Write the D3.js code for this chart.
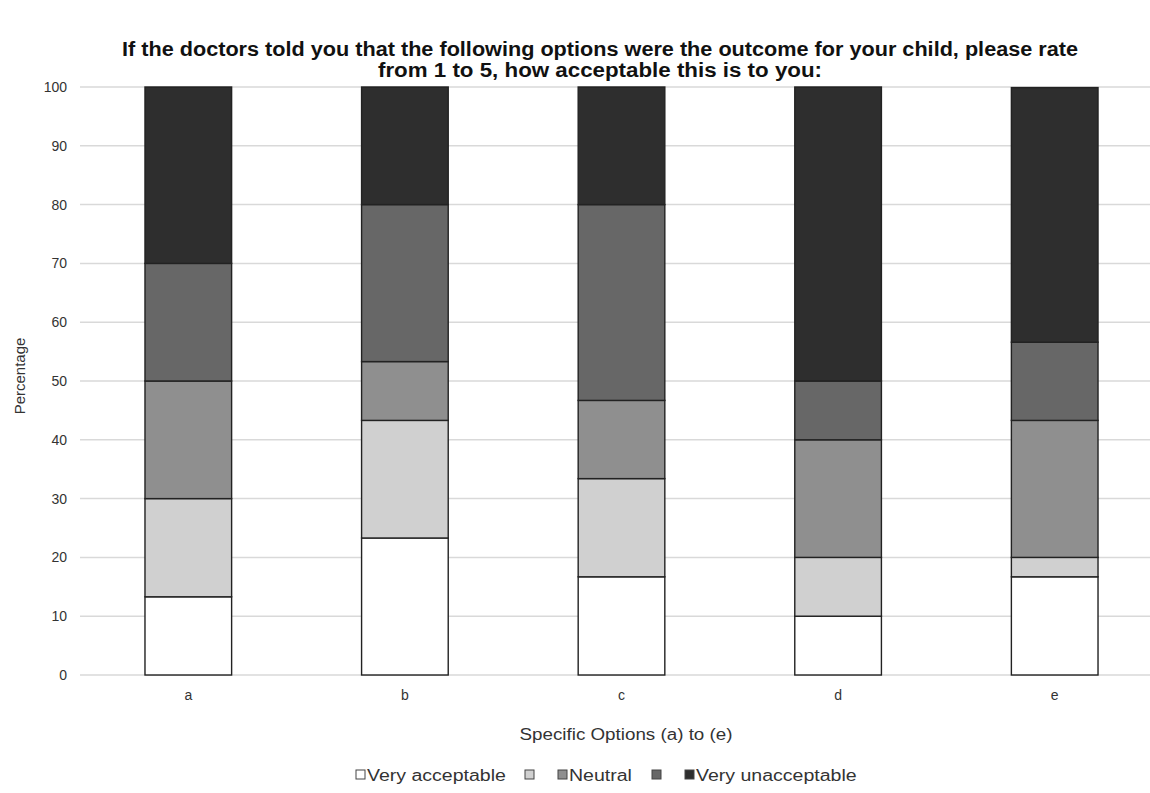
<!DOCTYPE html>
<html>
<head>
<meta charset="utf-8">
<script src="https://cdn.jsdelivr.net/npm/d3@7"></script>
<style>
  html, body { margin: 0; padding: 0; background: #fff; }
  svg { display: block; font-family: "Liberation Sans", Arial, sans-serif; }
</style>
</head>
<body>
<svg id="chart" width="1150" height="793"></svg>
<script>
// Response options (a)–(e)
const categories = ["a", "b", "c", "d", "e"];

// Rating levels, from most to least acceptable
const seriesNames = ["Very acceptable", "", "Neutral", "", "Very unacceptable"];

// Percentage of respondents per rating level, one entry per option
const veryAcceptable   = [13.3, 23.3, 16.7, 10.0, 16.7];
const acceptable       = [16.7, 20.0, 16.7, 10.0,  3.3];
const neutral          = [20.0, 10.0, 13.3, 20.0, 23.3];
const unacceptable     = [20.0, 26.7, 33.3, 10.0, 13.3];
const veryUnacceptable = [30.0, 20.0, 20.0, 50.0, 43.3];

const yTicks = [0, 10, 20, 30, 40, 50, 60, 70, 80, 90, 100];

const seriesValues = [veryAcceptable, acceptable, neutral, unacceptable, veryUnacceptable];
const fills = ["#ffffff", "#d0d0d0", "#8f8f8f", "#676767", "#2e2e2e"];

const rows = categories.map((c, i) => {
  const r = { cat: c };
  seriesValues.forEach((s, k) => { r["s" + k] = s[i]; });
  return r;
});
const keys = seriesValues.map((_, k) => "s" + k);
const stacked = d3.stack().keys(keys)(rows);

const svg = d3.select("#chart");
const plot = { left: 80, right: 1163, top: 87, bottom: 675 };

const x = d3.scaleBand()
  .domain(categories)
  .range([plot.left, plot.right])
  .paddingInner(0.6)
  .paddingOuter(0.3);

const y = d3.scaleLinear().domain([0, 100]).range([plot.bottom, plot.top]);

// Horizontal gridlines
svg.append("g")
  .selectAll("line")
  .data(yTicks)
  .join("line")
  .attr("x1", plot.left)
  .attr("x2", plot.right)
  .attr("y1", d => y(d))
  .attr("y2", d => y(d))
  .attr("stroke", "#d9d9d9")
  .attr("stroke-width", 1.5);

// Y axis labels
const yAxis = d3.axisLeft(y).tickValues(yTicks).tickSize(0).tickPadding(0);
const gy = svg.append("g").attr("transform", `translate(${plot.left - 13},0)`).call(yAxis);
gy.select(".domain").remove();
gy.selectAll("text")
  .attr("font-size", 14)
  .attr("fill", "#333")
  .attr("font-family", "Liberation Sans, Arial, sans-serif");

// X axis labels
const xAxis = d3.axisBottom(x).tickSize(0).tickPadding(0);
const gx = svg.append("g").attr("transform", `translate(0,${plot.bottom + 15})`).call(xAxis);
gx.select(".domain").remove();
gx.selectAll("text")
  .attr("font-size", 14)
  .attr("fill", "#333")
  .attr("font-family", "Liberation Sans, Arial, sans-serif");

// Stacked bars
svg.append("g")
  .selectAll("g")
  .data(stacked)
  .join("g")
  .attr("fill", (d, i) => fills[i])
  .selectAll("rect")
  .data(d => d)
  .join("rect")
  .attr("x", d => x(d.data.cat))
  .attr("width", x.bandwidth())
  .attr("y", d => y(d[1]))
  .attr("height", d => y(d[0]) - y(d[1]))
  .attr("stroke", "#222")
  .attr("stroke-width", 1.4);

// Title (condensed bold)
const title = svg.append("g").attr("font-weight", "bold").attr("fill", "#111").attr("text-anchor", "middle");
title.append("text")
  .attr("x", 600).attr("y", 56)
  .attr("font-size", 20)
  .attr("textLength", 956).attr("lengthAdjust", "spacingAndGlyphs")
  .text("If the doctors told you that the following options were the outcome for your child, please rate");
title.append("text")
  .attr("x", 600).attr("y", 77)
  .attr("font-size", 20)
  .attr("textLength", 444).attr("lengthAdjust", "spacingAndGlyphs")
  .text("from 1 to 5, how acceptable this is to you:");

// Axis titles
svg.append("text")
  .attr("x", 626).attr("y", 740)
  .attr("text-anchor", "middle")
  .attr("font-size", 16)
  .attr("fill", "#333")
  .attr("textLength", 213).attr("lengthAdjust", "spacingAndGlyphs")
  .text("Specific Options (a) to (e)");

svg.append("text")
  .attr("transform", "translate(25,376) rotate(-90)")
  .attr("text-anchor", "middle")
  .attr("font-size", 15)
  .attr("fill", "#333")
  .text("Percentage");

// Legend (text widened slightly)
const legendX = [356, 525, 558, 652, 685];
const legend = svg.append("g");
seriesNames.forEach((name, i) => {
  legend.append("rect")
    .attr("x", legendX[i]).attr("y", 770)
    .attr("width", 9).attr("height", 9)
    .attr("fill", fills[i])
    .attr("stroke", "#444").attr("stroke-width", 1);
  if (name) {
    const t = legend.append("text")
      .attr("x", legendX[i] + 11).attr("y", 781)
      .attr("font-size", 16)
      .attr("fill", "#333")
      .text(name);
    const w = t.node().getComputedTextLength();
    t.attr("textLength", w * 1.22).attr("lengthAdjust", "spacingAndGlyphs");
  }
});
</script>
</body>
</html>
